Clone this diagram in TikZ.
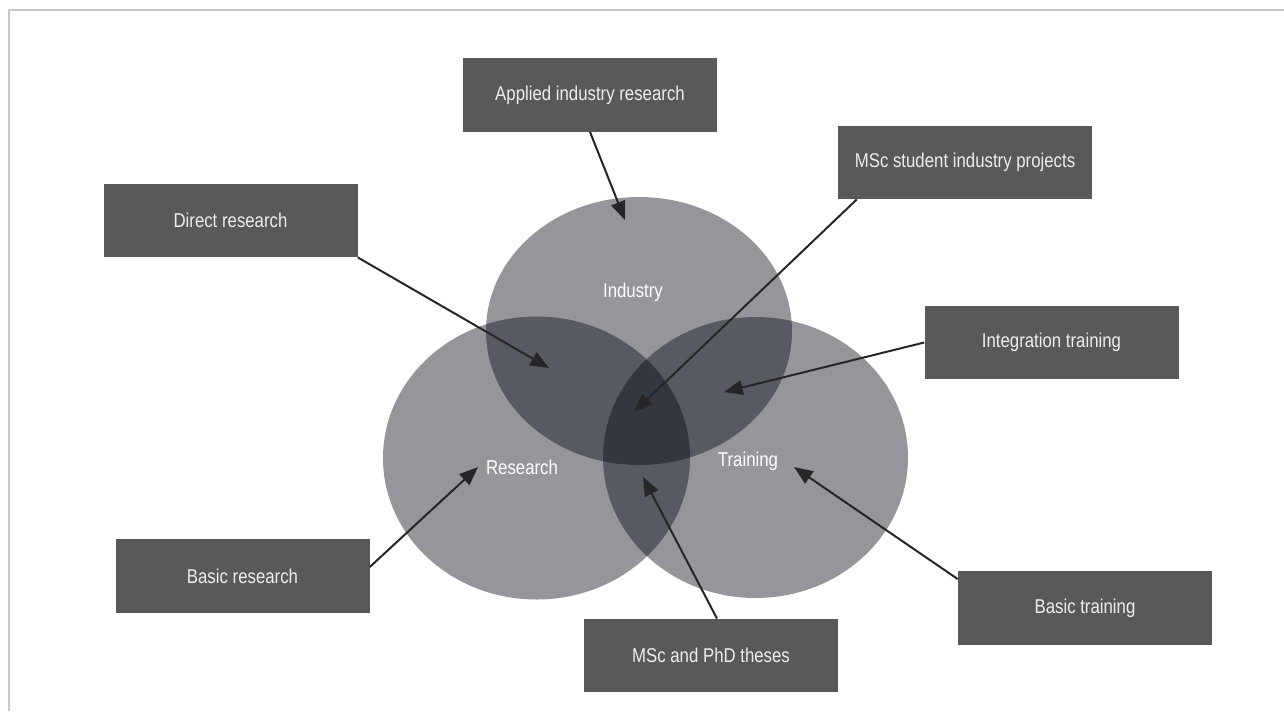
\documentclass[tikz,border=0pt]{standalone}
\usepackage{fontspec}
\setmainfont{Liberation Sans}[FakeStretch=0.84]
\usetikzlibrary{arrows.meta,calc}
\definecolor{boxgray}{HTML}{58595B}
\definecolor{framegray}{HTML}{C8C8C8}
\definecolor{pointergray}{HTML}{262628}
\definecolor{setshade}{rgb}{0.02,0.03,0.07}
\tikzstyle{labelbox}=[fill=boxgray, text=white!93!black, minimum width=190.5pt, minimum height=55pt, inner sep=0pt, font=\fontsize{15}{18}\selectfont]
\tikzstyle{setname}=[text=white, font=\fontsize{15}{18}\selectfont]
\tikzstyle{setshape}=[fill=setshade, fill opacity=0.425]
\tikzstyle{pointer}=[draw=pointergray, line width=1.5pt, -{Triangle[length=14pt,width=11pt]}]

\begin{document}
\begin{tikzpicture}[x=0.75pt, y=-0.75pt]
            \useasboundingbox (0,0) rectangle (1284,711);
            \draw[framegray, line width=1.2pt] (9,711) -- (9,10) -- (1284,10);

            % the three sets
            \fill[setshape] (639,331) ellipse [x radius=153, y radius=134];
            \fill[setshape] (536.5,458) ellipse [x radius=153.5, y radius=141.5];
            \fill[setshape] (755.5,457.5) ellipse [x radius=152.5, y radius=140.5];

            \node[setname] (industry) at (633,292) {Industry};
            \node[setname] (research) at (522,467) {Research};
            \node[setname] (training) at (748,461) {Training};

            % boxes
            \node[labelbox] (applied) at (590,95) {Applied industry research};
            \node[labelbox] (mscproj) at (965,162.5) {MSc student industry projects};
            \node[labelbox] (direct) at (230.5,220.5) {Direct research};
            \node[labelbox] (integ) at (1051.5,342.5) {Integration training};
            \node[labelbox] (basicr) at (242.5,576) {Basic research};
            \node[labelbox] (theses) at (711,655.5) {MSc and PhD theses};
            \node[labelbox] (basict) at (1085,608) {Basic training};

            \coordinate (tipapplied) at (625,220);
            \coordinate (tipmscproj) at (634,412);
            \coordinate (tipdirect) at (549,368);
            \coordinate (tipinteg) at (724,392);
            \coordinate (tipbasicr) at (478,467);
            \coordinate (tiptheses) at (643,477);
            \coordinate (tipbasict) at (794,467);

            \draw[pointer] (applied.south) -- (tipapplied);
            \draw[pointer] ($(mscproj.south west)+(19,0)$) -- (tipmscproj);
            \draw[pointer] (direct.south east) -- (tipdirect);
            \draw[pointer] (integ.west) -- (tipinteg);
            \draw[pointer] ($(basicr.east)+(0,-9)$) -- (tipbasicr);
            \draw[pointer] ($(theses.north)+(6,0)$) -- (tiptheses);
            \draw[pointer] ($(basict.north west)+(0,8)$) -- (tipbasict);
        \end{tikzpicture}
\end{document}
